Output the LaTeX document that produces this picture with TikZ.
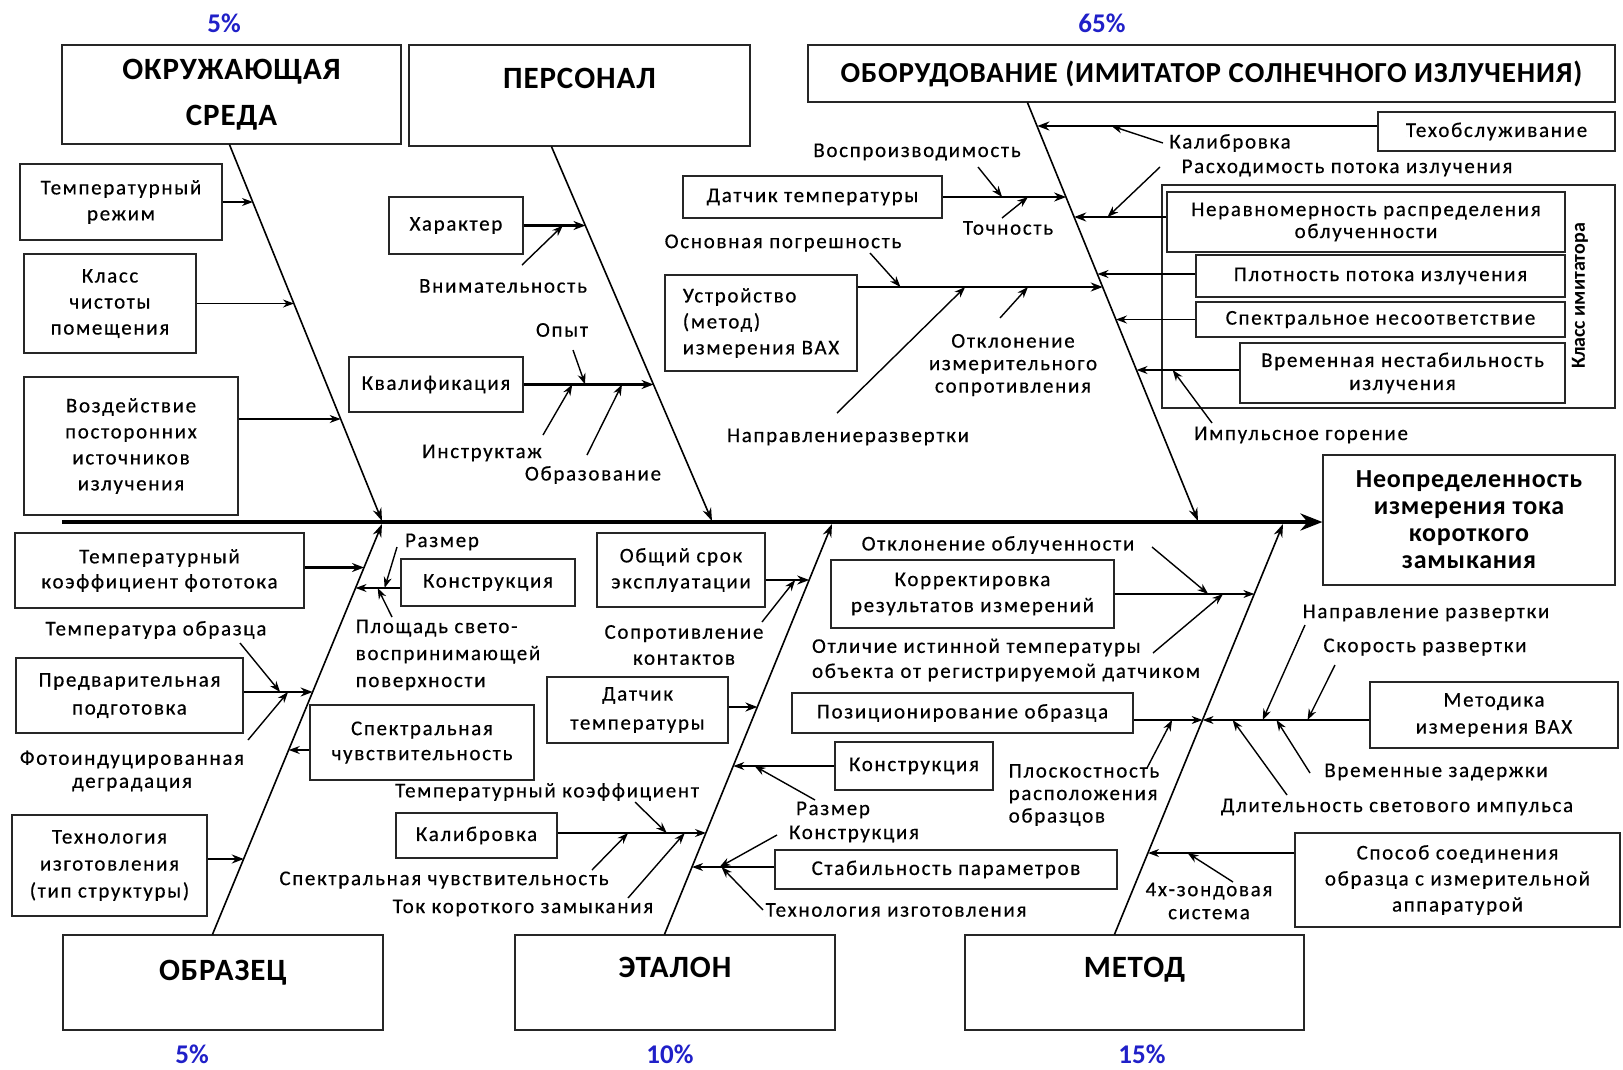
\documentclass[tikz,border=0pt]{standalone}
\usepackage{fontspec}
\setmainfont{Carlito}
\newfontfamily\lblfont[LetterSpace=8,FakeBold=0.4]{Carlito}
\newfontfamily\hdfont[LetterSpace=3]{Carlito}
\usetikzlibrary{arrows.meta, calc, positioning}
\definecolor{pctblue}{RGB}{32,32,200}
\tikzset{
box/.style={draw=black!85, line width=1.1pt, inner sep=1pt, align=center, font=\lblfont\fontsize{21}{#1}\selectfont},
box/.default=26,
lbl/.style={inner sep=0pt, align=center, font=\lblfont\fontsize{21}{#1}\selectfont},
lbl/.default=24,
cat/.style={draw=black!85, line width=1.1pt, inner sep=1pt, align=center, font=\hdfont\bfseries\fontsize{31}{#1}\selectfont},
cat/.default=40,
pct/.style={inner sep=0pt, font=\bfseries\fontsize{27}{29}\selectfont, text=pctblue},
sz/.style 2 args={minimum width=#1pt, minimum height=#2pt},
bone/.style={line width=1.6pt, -{Stealth[length=13pt,width=9pt]}},
br/.style={line width=1.3pt, -{Stealth[length=11pt,width=8pt]}},
brt/.style={line width=2.6pt, -{Stealth[length=12pt,width=9pt]}},
subar/.style={line width=1.4pt, -{Stealth[length=11pt,width=8pt]}}
}
\newcommand\causeline[6]{%
\path ([yshift=#4pt]#2.#3) coordinate (#2S) ($(a#5)!#6!(e#5)$) coordinate (#2K);
\path (#2S -| #2K) coordinate (#2E);
\draw[#1] (#2S) -- (#2E);}
\newcommand\subcause[4]{\draw[subar] ([shift={(#2)}]#1.center) -- ($(#3S)!#4!(#3E)$);}
\begin{document}
\begin{tikzpicture}[x=1pt, y=-1pt]
\useasboundingbox (0,0) rectangle (1623,1069);
\node[pct] (penv) at (224,23) {5\%};
\node[pct] (pequ) at (1102,23) {65\%};
\node[pct] (psmp) at (192,1054) {5\%};
\node[pct] (petl) at (670,1054) {10\%};
\node[pct] (pmtd) at (1142,1054) {15\%};
\node[cat=46, sz={339}{99}] (env) at (231.5,94.5) {ОКРУЖАЮЩАЯ\\СРЕДА};
\node[cat=35, sz={341}{101}] (pers) at (579.5,95.5) {ПЕРСОНАЛ\\\mbox{}};
\node[cat, sz={807}{57}, font=\hdfont\bfseries\fontsize{29}{40}\selectfont] (equ) at (1211.5,73.5) {ОБОРУДОВАНИЕ (ИМИТАТОР СОЛНЕЧНОГО ИЗЛУЧЕНИЯ)};
\node[cat=25, sz={320}{95}] (smp) at (223,982.5) {ОБРАЗЕЦ\\\mbox{}};
\node[cat=31, sz={320}{95}] (etl) at (675,982.5) {ЭТАЛОН\\\mbox{}};
\node[cat=31, sz={339}{95}] (mtd) at (1134.5,982.5) {МЕТОД\\\mbox{}};
\node[draw=black!85, line width=1.1pt, align=center, sz={292}{130}, font=\hdfont\bfseries\fontsize{26}{27}\selectfont] (eff) at (1469,520) {Неопределенность\\измерения тока\\короткого\\замыкания};

\node[box, sz={202}{76}] (tr) at (121,202) {Температурный\\режим};
\node[box, sz={172}{99}] (kl) at (110,303.5) {Класс\\чистоты\\помещения};
\node[box, sz={214}{138}] (vz) at (131,446) {Воздействие\\посторонних\\источников\\излучения};
\node[box, sz={134}{57}] (chr) at (456,225.5) {Характер};
\node[box, sz={174}{55}] (qual) at (436,384.5) {Квалификация};
\node[box, sz={259}{42}] (dts) at (812.5,197) {Датчик температуры};
\node[box, sz={192}{96}, align=left] (dev) at (761,323) {Устройство\\(метод)\\измерения ВАХ};
\node[box, sz={237}{39}] (mnt) at (1496.5,131.5) {Техобслуживание};
\node[box, sz={453}{223}] (cls) at (1388.5,296.5) {};
\node[box=22, sz={398}{60}] (nrv) at (1366,222) {Неравномерность распределения\\облученности};
\node[box, sz={369}{42}] (plt) at (1380.5,276) {Плотность потока излучения};
\node[box, sz={369}{35}] (spc) at (1380.5,319.5) {Спектральное несоответствие};
\node[box=23, sz={325}{60}] (vrm) at (1402.5,373) {Временная нестабильность\\излучения};
\node[rotate=90, font=\bfseries\fontsize{20}{20}\selectfont] (clsl) at (1580,296) {Класс имитатора};

\node[box=25, sz={289}{75}] (tkf) at (159.5,570.5) {Температурный\\коэффициент фототока};
\node[box=28, sz={227}{75}] (prep) at (129.5,695.5) {Предварительная\\подготовка};
\node[box=25, sz={224}{75}] (sns) at (422,742.5) {Спектральная\\чувствительность};
\node[box, sz={174}{47}] (kns) at (488,582.5) {Конструкция};
\node[box=27, sz={195}{101}] (tech) at (109.5,865.5) {Технология\\изготовления\\(тип структуры)};
\node[box, sz={168}{74}] (life) at (681,570) {Общий срок\\эксплуатации};
\node[box=29, sz={181}{66}] (dtb) at (637.5,710) {Датчик\\температуры};
\node[box, sz={158}{48}] (kne) at (914,766) {Конструкция};
\node[box, sz={161}{45}] (cal) at (476.5,835.5) {Калибровка};
\node[box, sz={342}{39}] (stb) at (946,869.5) {Стабильность параметров};
\node[box, sz={283}{68}] (cor) at (972.5,594) {Корректировка\\результатов измерений};
\node[box, sz={341}{40}] (pos) at (962.5,713) {Позиционирование образца};
\node[box=27, sz={248}{66}] (met) at (1494,715) {Методика\\измерения ВАХ};
\node[box, sz={325}{94}] (con) at (1457.5,880) {Способ соединения\\образца с измерительной\\аппаратурой};

\node[lbl] (vnm) at (503,286) {Внимательность};
\node[lbl] (opt) at (562,330) {Опыт};
\node[lbl] (ins) at (482,453) {Инструктаж};
\node[lbl] (obr) at (593,475) {Образование};
\node[lbl] (vsp) at (917,152) {Воспроизводимость};
\node[lbl] (toc) at (1008,228) {Точность};
\node[lbl] (osn) at (783,243) {Основная погрешность};
\node[lbl] (nap) at (848,437) {Направлениеразвертки};
\node[lbl=22.5] (otk) at (1013,365) {Отклонение\\измерительного\\сопротивления};
\node[lbl] (klb) at (1230,143) {Калибровка};
\node[lbl] (rsh) at (1347,168) {Расходимость потока излучения};
\node[lbl] (imp) at (1301,435) {Импульсное горение};
\node[lbl] (rzm) at (442,542) {Размер};
\node[lbl=27, align=left] (plo) at (448,655) {Площадь свето-\\воспринимающей\\поверхности};
\node[lbl] (tob) at (156,630) {Температура образца};
\node[lbl=23] (fot) at (132,771) {Фотоиндуцированная\\деградация};
\node[lbl=26] (sop) at (684,645) {Сопротивление\\контактов};
\node[lbl] (rze) at (833,810) {Размер};
\node[lbl] (kce) at (854,834) {Конструкция};
\node[lbl] (tkc) at (547,792) {Температурный коэффициент};
\node[lbl] (sch) at (444,880) {Спектральная чувствительность};
\node[lbl] (tkz) at (523,908) {Ток короткого замыкания};
\node[lbl] (tiz) at (896,910) {Технология изготовления};
\node[lbl] (oob) at (998,545) {Отклонение облученности};
\node[lbl=25, align=left] (otl) at (1006,660) {Отличие истинной температуры\\объекта от регистрируемой датчиком};
\node[lbl=22.5, align=left] (plk) at (1084,795) {Плоскостность\\расположения\\образцов};
\node[lbl] (nrz) at (1426,613) {Направление развертки};
\node[lbl] (skr) at (1425,647) {Скорость развертки};
\node[lbl] (vzd) at (1436,772) {Временные задержки};
\node[lbl] (dli) at (1397,807) {Длительность светового импульса};
\node[lbl=23] (zon) at (1209,901) {4х-зондовая\\система};

\coordinate (sp0) at (62,522);
\draw[line width=4.5pt, -{Stealth[length=22pt,width=17pt]}] (sp0) -- (sp0 -| eff.west);
\coordinate (a1) at ([xshift=168pt]env.south west);
\coordinate (a2) at ([xshift=143pt]pers.south west);
\coordinate (a3) at ([xshift=220pt]equ.south west);
\coordinate (a4) at ([xshift=150pt]smp.north west);
\coordinate (a5) at ([xshift=150pt]etl.north west);
\coordinate (a6) at ([xshift=150pt]mtd.north west);
\coordinate (e1) at (382,521);
\coordinate (e2) at (712,521);
\coordinate (e3) at (1198,521);
\coordinate (e4) at (382,524);
\coordinate (e5) at (832,524);
\coordinate (e6) at (1283,524);
\foreach \i in {1,...,6}{\draw[bone] (a\i) -- (e\i);}

\causeline{br}{tr}{east}{0}{1}{0.154}
\causeline{br}{kl}{east}{0}{1}{0.423}
\causeline{br}{vz}{east}{27}{1}{0.729}
\causeline{brt}{chr}{east}{0}{2}{0.212}
\causeline{brt}{qual}{east}{0}{2}{0.636}
\causeline{brt}{mnt}{west}{5.5}{3}{0.058}
\causeline{brt}{dts}{east}{0}{3}{0.227}
\causeline{brt}{dev}{east}{36}{3}{0.4415}
\causeline{brt}{nrv}{west}{5}{3}{0.274}
\causeline{br}{plt}{west}{2}{3}{0.4105}
\causeline{br}{spc}{west}{0}{3}{0.519}
\causeline{br}{vrm}{west}{3}{3}{0.6396}
\causeline{brt}{tkf}{east}{3}{4}{0.894}
\causeline{br}{kns}{west}{-5.5}{4}{0.844}
\causeline{brt}{prep}{east}{3.5}{4}{0.591}
\causeline{br}{sns}{west}{-7.5}{4}{0.450}
\causeline{brt}{tech}{east}{6.5}{4}{0.185}
\causeline{brt}{life}{east}{-10}{5}{0.864}
\causeline{brt}{dtb}{east}{3}{5}{0.555}
\causeline{br}{kne}{west}{0}{5}{0.411}
\causeline{br}{cal}{east}{2.5}{5}{0.248}
\causeline{br}{stb}{west}{2.5}{5}{0.165}
\causeline{br}{cor}{east}{0}{6}{0.830}
\causeline{br}{pos}{east}{-7}{6}{0.523}
\causeline{br}{met}{west}{-5}{6}{0.523}
\causeline{br}{con}{west}{27}{6}{0.1995}

\subcause{vnm}{19,-21}{chr}{0.636}
\subcause{opt}{11,20}{qual}{0.474}
\subcause{ins}{61,-18}{qual}{0.375}
\subcause{obr}{-6,-20}{qual}{0.757}
\subcause{vsp}{61,15}{dts}{0.482}
\subcause{toc}{-6,-10}{dts}{0.691}
\subcause{osn}{87,10}{dev}{0.175}
\subcause{nap}{-11,-24}{dev}{0.439}
\subcause{otk}{-13,-47}{dev}{0.695}
\subcause{klb}{-67,0}{mnt}{0.782}
\subcause{rsh}{-187,-1}{nrv}{0.639}
\subcause{imp}{-89,-12}{vrm}{0.649}
\subcause{rzm}{-45,5}{kns}{0.353}
\subcause{plo}{-56,-38}{kns}{0.508}
\subcause{tob}{84,13}{prep}{0.529}
\subcause{fot}{116,-31}{prep}{0.644}
\subcause{sop}{78,-23}{life}{0.679}
\subcause{rze}{-18,-10}{kne}{0.79}
\subcause{tkc}{88,10}{cal}{0.736}
\subcause{sch}{148,-10}{cal}{0.475}
\subcause{tkz}{105,-10}{cal}{0.857}
\subcause{kce}{-77,1}{stb}{0.667}
\subcause{tiz}{-133,0}{stb}{0.643}
\subcause{oob}{154,2}{cor}{0.67}
\subcause{otl}{147,-7}{cor}{0.776}
\subcause{plk}{63,-27}{pos}{0.558}
\subcause{nrz}{-121,12}{met}{0.64}
\subcause{skr}{-90,18}{met}{0.371}
\subcause{vzd}{-126,1}{met}{0.557}
\subcause{dli}{-110,-12}{met}{0.82}
\subcause{zon}{24,-19}{con}{0.73}
\end{tikzpicture}
\end{document}
